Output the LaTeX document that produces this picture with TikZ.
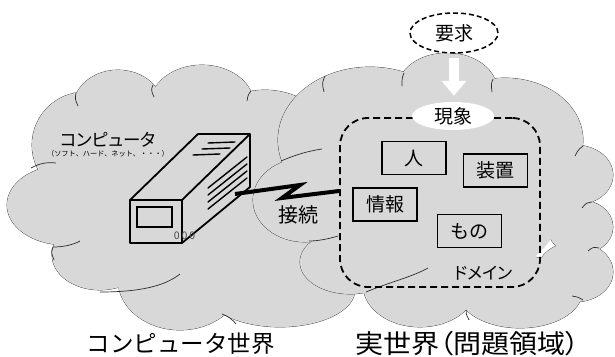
\documentclass[tikz,border=0pt]{standalone}
\usepackage{fontspec}
\setmainfont{Noto Sans CJK JP}
\newfontfamily\jpprop[RawFeature=+palt]{Noto Sans CJK JP}
\newfontfamily\jpwide[FakeStretch=1.08,RawFeature=+palt]{Noto Sans CJK JP}
\usetikzlibrary{arrows.meta,shapes.geometric,calc}

\definecolor{cloudgray}{RGB}{216,216,216}
\definecolor{cloudedge}{RGB}{45,45,45}

% lobes of the two clouds: centre x / centre y / x radius / y radius
\def\leftlobes{85/145/53/53, 118/108/45/38, 202/105/52/40, 265/160/75/70,
  65/205/58/40, 100/255/48/35, 180/280/62/50, 280/290/75/37, 300/255/40/30}
\def\rightlobes{370/140/92/73, 447/90/50/37, 505/140/78/62, 575/175/38/30,
  580/227/33/27, 575/272/38/30, 520/292/62/36, 420/285/57/42, 350/262/50/32,
  305/200/52/42}

\tikzset{
  cloudline/.style={draw=cloudedge, line width=0.7pt},
  devline/.style={draw=black, line width=1.8pt, line join=round},
  vent/.style={draw=black, line width=1.4pt, line cap=round},
  zigline/.style={draw=black, line width=4pt, line join=miter},
  item/.style={draw=black, line width=1.8pt, minimum width=64pt,
    minimum height=33pt, inner sep=0pt, font=\fontsize{19}{19}\selectfont},
  domainbox/.style={draw=black, line width=1.8pt, dash pattern=on 7pt off 4pt,
    rounded corners=28pt, inner sep=0pt},
  bubble/.style={ellipse, inner sep=0pt, font=\fontsize{19}{19}\selectfont},
  whitearrow/.style={draw=white, line width=10pt,
    -{Triangle[width=24pt,length=15pt]}},
}

\begin{document}
\begin{tikzpicture}[x=1pt,y=-1pt]
\useasboundingbox (0,0) rectangle (615,356);
\fill[white] (0,0) rectangle (615,356);

% ---- computer world cloud ----
\foreach \cx/\cy/\rx/\ry in \leftlobes
  {\draw[cloudline] (\cx,\cy) ellipse [x radius=\rx pt, y radius=\ry pt];}
\foreach \cx/\cy/\rx/\ry in \leftlobes
  {\fill[cloudgray] (\cx,\cy) ellipse [x radius=\rx pt, y radius=\ry pt];}
\fill[cloudgray] (165,200) ellipse [x radius=120pt, y radius=95pt];
\draw[cloudline] (153,85) .. controls (151,90) .. (154,97);
\draw[cloudline] (76,93) .. controls (75,99) .. (78,106);
\draw[cloudline] (31,168) .. controls (40,163) and (48,162) .. (56,163);
\draw[cloudline] (53,247) .. controls (51,252) .. (54,260);
\draw[cloudline] (53,247) .. controls (63,247) and (73,245) .. (80,241);
\draw[cloudline] (100,292) .. controls (140,292) and (165,286) .. (180,274);
\draw[cloudline] (222,314) .. controls (228,316) and (233,320) .. (236,324);
\draw[cloudline] (251,91) .. controls (248,95) .. (247,101);

% ---- real world cloud ----
\foreach \cx/\cy/\rx/\ry in \rightlobes
  {\draw[cloudline] (\cx,\cy) ellipse [x radius=\rx pt, y radius=\ry pt];}
\foreach \cx/\cy/\rx/\ry in \rightlobes
  {\fill[cloudgray] (\cx,\cy) ellipse [x radius=\rx pt, y radius=\ry pt];}
\fill[cloudgray] (440,195) ellipse [x radius=125pt, y radius=95pt];
\draw[cloudline] (404,73) .. controls (402,78) .. (402,86);
\draw[cloudline] (493,79) .. controls (491,84) .. (492,92);
\draw[cloudline] (583,146) .. controls (578,150) .. (575,156);
\draw[cloudline] (592,202) .. controls (586,203) .. (582,208);
\draw[cloudline] (599,248) .. controls (593,247) .. (588,251);
\draw[cloudline] (583,300) .. controls (578,297) .. (572,296);
\draw[cloudline] (466,310) .. controls (466,314) .. (469,320);
\draw[cloudline] (366,292) .. controls (390,282) and (412,277) .. (428,268);
\draw[cloudline] (309,241) .. controls (318,241) and (328,239) .. (338,236);
\draw[cloudline] (281,161) .. controls (295,155) and (308,151) .. (322,149);
\draw[cloudline] (325,76) .. controls (322,83) .. (324,92);

% ---- computer box ----
\filldraw[devline, fill=cloudgray] (130,200) -- (198,134) -- (250,134)
  -- (250,187) -- (182,243) -- (130,243) -- cycle;
\draw[devline] (130,200) -- (182,200) -- (250,134);
\draw[devline] (182,200) -- (182,243);
\draw[line width=1.2pt] (137,207) rectangle (172,227);
\draw[vent] (208,143) -- (235,142);
\draw[vent] (202,149) -- (230,148);
\draw[vent] (193,155) -- (220,154);
\foreach \k in {0,1,2,3}
  {\draw[vent] (208,188+7*\k) -- (247,157+7*\k);}
\node[font=\fontsize{10.5}{10.5}\selectfont, text=black!70, inner sep=0pt]
  (ports) at (184.5,236) {0\hspace{2pt}0\hspace{2pt}0};
\coordinate (plug) at (235,194);

\node[font=\jpprop\fontsize{17.5}{17.5}\selectfont, inner sep=0pt]
  (pc) at (108,140) {コンピュータ};
\node[font=\fontsize{7.2}{7.2}\selectfont, inner sep=0pt]
  (pcsub) at (108,153.5) {（ソフト、ハード、ネット、・・・）};

% ---- domain ----
\node[domainbox, minimum width=200pt, minimum height=169pt]
  (domain) at (440,202.5) {};
\node[font=\jpprop\fontsize{17}{17}\selectfont, inner sep=0pt]
  (domainlabel) at (483,273) {ドメイン};
\node[item] (hito) at (414,158) {人};
\node[item] (sochi) at (495.5,170.5) {装置};
\node[item] (joho) at (385,204.5) {情報};
\node[item] (mono) at (469.5,231) {もの};

% ---- connection ----
\coordinate (linkend) at ([yshift=11.5pt]domain.west);
\draw[zigline] (plug) -- (300,185) -- (282,198) -- (linkend);
\node[font=\fontsize{20}{20}\selectfont, inner sep=0pt]
  (setsuzoku) at (298,215) {接続};

% ---- phenomenon and requirement ----
\node[bubble, fill=white, minimum width=82pt, minimum height=28pt]
  (gensho) at (453,116) {現象};
\node[bubble, draw=black, fill=white, line width=1.5pt,
  dash pattern=on 5pt off 3pt, minimum width=88pt, minimum height=40pt]
  (yokyu) at (454,33) {要求};
\draw[whitearrow, shorten <=4pt, shorten >=6pt]
  (yokyu.south) -- (yokyu.south |- gensho.north);

% ---- titles ----
\node[font=\fontsize{23.5}{23.5}\selectfont, inner sep=0pt]
  (pcworld) at (180.5,344) {コンピュータ世界};
\node[font=\jpwide\fontsize{26}{26}\selectfont, inner sep=0pt]
  (realworld) at (467.5,343.5) {実世界（問題領域）};
\end{tikzpicture}
\end{document}
